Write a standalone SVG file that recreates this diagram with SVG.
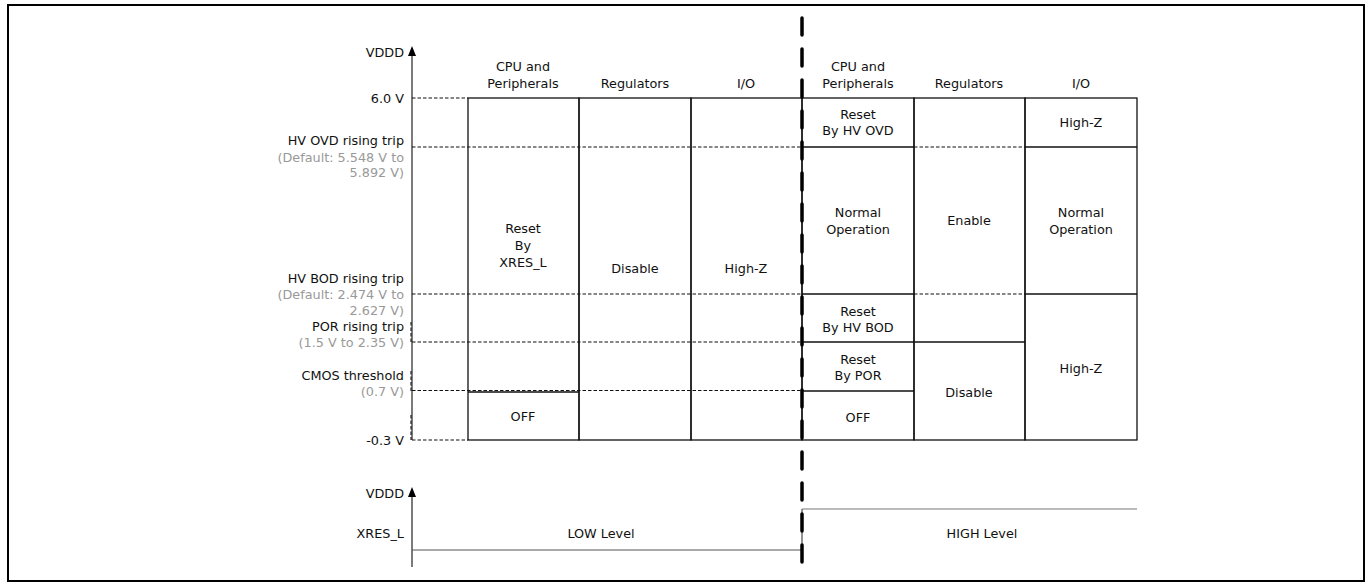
<svg xmlns="http://www.w3.org/2000/svg" width="1369" height="583" viewBox="0 0 1369 583">
<style>
text{font-family:"DejaVu Sans","Liberation Sans",sans-serif;font-size:12.8px;fill:#111}
.r{text-anchor:end}
.c{text-anchor:middle}
.g{fill:#999}
.dash{stroke:#111;stroke-width:1.1;stroke-dasharray:3.5 2;fill:none}
.solid{stroke:#111;stroke-width:1.3;fill:none}
.axis{stroke:#222;stroke-width:1.2;fill:none}
</style>
<rect x="8" y="5" width="1356" height="576" fill="#fff" stroke="#000" stroke-width="2"/>

<g id="axis-top">
<line class="axis" x1="412" y1="54" x2="412" y2="440"/>
<polygon points="412,46 408,56 416,56" fill="#000"/>
<line class="dash" x1="411" y1="322" x2="411" y2="342"/>
<line class="dash" x1="411" y1="371" x2="411" y2="391"/>
<line class="dash" x1="411" y1="415" x2="411" y2="440"/>
<text class="r" x="404" y="57">VDDD</text>
<text class="r" x="404" y="103">6.0 V</text>
<text class="r" x="404" y="145">HV OVD rising trip</text>
<text class="r g" x="404" y="162">(Default: 5.548 V to</text>
<text class="r g" x="404" y="177">5.892 V)</text>
<text class="r" x="404" y="283">HV BOD rising trip</text>
<text class="r g" x="404" y="299">(Default: 2.474 V to</text>
<text class="r g" x="404" y="315">2.627 V)</text>
<text class="r" x="404" y="331">POR rising trip</text>
<text class="r g" x="404" y="347">(1.5 V to 2.35 V)</text>
<text class="r" x="404" y="380">CMOS threshold</text>
<text class="r g" x="404" y="396">(0.7 V)</text>
<text class="r" x="404" y="445">-0.3 V</text>
</g>

<g id="levels">
<line class="dash" x1="412" y1="98" x2="468" y2="98"/>
<line class="dash" x1="412" y1="147" x2="802" y2="147"/>
<line class="dash" x1="412" y1="294" x2="802" y2="294"/>
<line class="dash" x1="412" y1="342" x2="802" y2="342"/>
<line class="dash" x1="412" y1="390.5" x2="802" y2="390.5"/>
<line class="dash" x1="412" y1="440" x2="468" y2="440"/>
<line class="dash" x1="914" y1="147" x2="1025" y2="147"/>
<line class="dash" x1="914" y1="294" x2="1025" y2="294"/>
</g>

<g id="headers">
<text class="c" x="523" y="71">CPU and</text>
<text class="c" x="523" y="88">Peripherals</text>
<text class="c" x="635" y="88">Regulators</text>
<text class="c" x="746" y="88">I/O</text>
<text class="c" x="858" y="71">CPU and</text>
<text class="c" x="858" y="88">Peripherals</text>
<text class="c" x="969" y="88">Regulators</text>
<text class="c" x="1081" y="88">I/O</text>
</g>

<g id="left-cpu">
<rect class="solid" x="468" y="98" width="111" height="342"/>
<line class="solid" x1="468" y1="392" x2="579" y2="392" stroke="#444" stroke-width="1.6"/>
<text class="c" x="523" y="233">Reset</text>
<text class="c" x="523" y="250">By</text>
<text class="c" x="523" y="267">XRES_L</text>
<text class="c" x="523" y="421">OFF</text>
</g>
<g id="left-regulators">
<rect class="solid" x="579" y="98" width="112" height="342"/>
<text class="c" x="635" y="273">Disable</text>
</g>
<g id="left-io">
<rect class="solid" x="691" y="98" width="111" height="342"/>
<text class="c" x="746" y="273">High-Z</text>
</g>

<g id="right-cpu">
<rect class="solid" x="802" y="98" width="112" height="342"/>
<line class="solid" x1="802" y1="147" x2="914" y2="147"/>
<line class="solid" x1="802" y1="294" x2="914" y2="294"/>
<line class="solid" x1="802" y1="342" x2="914" y2="342"/>
<line class="solid" x1="802" y1="391" x2="914" y2="391"/>
<text class="c" x="858" y="119">Reset</text>
<text class="c" x="858" y="135">By HV OVD</text>
<text class="c" x="858" y="217">Normal</text>
<text class="c" x="858" y="234">Operation</text>
<text class="c" x="858" y="316">Reset</text>
<text class="c" x="858" y="332">By HV BOD</text>
<text class="c" x="858" y="364">Reset</text>
<text class="c" x="858" y="380">By POR</text>
<text class="c" x="858" y="422">OFF</text>
</g>
<g id="right-regulators">
<rect class="solid" x="914" y="98" width="111" height="342"/>
<line class="solid" x1="914" y1="342" x2="1025" y2="342"/>
<text class="c" x="969" y="225">Enable</text>
<text class="c" x="969" y="397">Disable</text>
</g>
<g id="right-io">
<rect class="solid" x="1025" y="98" width="112" height="342"/>
<line class="solid" x1="1025" y1="147" x2="1137" y2="147"/>
<line class="solid" x1="1025" y1="294" x2="1137" y2="294"/>
<text class="c" x="1081" y="127">High-Z</text>
<text class="c" x="1081" y="217">Normal</text>
<text class="c" x="1081" y="234">Operation</text>
<text class="c" x="1081" y="373">High-Z</text>
</g>

<g id="xres-chart">
<line class="axis" x1="412" y1="495" x2="412" y2="567"/>
<polygon points="412,487 408,497 416,497" fill="#000"/>
<text class="r" x="404" y="498">VDDD</text>
<text class="r" x="404" y="538">XRES_L</text>
<text class="c" x="601" y="538">LOW Level</text>
<text class="c" x="982" y="538">HIGH Level</text>
</g>

<g id="connectors">
<line x1="412" y1="550" x2="802" y2="550" stroke="#555" stroke-width="1.2"/>
<line x1="802" y1="509" x2="802" y2="550" stroke="#222" stroke-width="1"/>
<line x1="802" y1="509" x2="1137" y2="509" stroke="#777" stroke-width="1.2"/>
<line x1="802" y1="18" x2="802" y2="565" stroke="#000" stroke-width="3.5" stroke-linecap="round" stroke-dasharray="17 14"/>
</g>
</svg>
